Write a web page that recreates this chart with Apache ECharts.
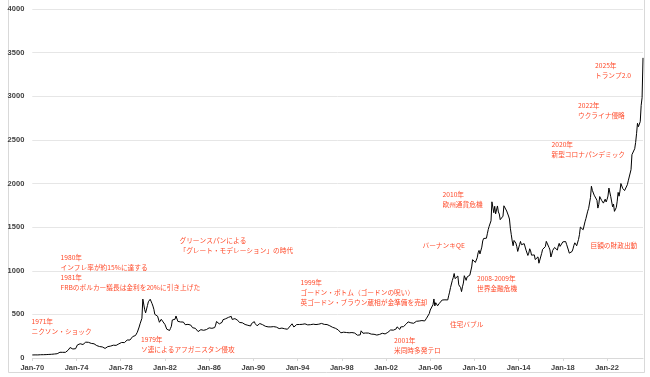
<!DOCTYPE html>
<html>
<head>
<meta charset="utf-8">
<script src="https://cdn.jsdelivr.net/npm/echarts@6/dist/echarts.min.js"></script>
<style>html,body{margin:0;padding:0;background:#fff}#c{width:650px;height:377px}</style>
</head>
<body>
<div id="c"></div>
<script>
// Monthly average gold price (USD/oz), Jan 1970 - Apr 2025
const startYear = 1970;
const gold1970s = [
 34.9,35.0,35.1,35.6,35.9,35.5,35.3,35.4,36.2,37.5,37.4,37.4,
 37.9,38.7,38.9,39.0,40.5,40.1,41.0,42.7,42.0,42.5,42.9,43.5,
 45.8,48.3,48.3,49.0,54.6,62.1,65.7,67.0,65.5,64.9,62.9,63.9,
 65.1,74.2,84.4,90.5,102.0,120.1,120.2,106.8,103.0,100.1,94.9,106.7,
 129.2,150.2,168.4,172.2,163.3,154.1,143.0,154.6,151.8,158.8,181.7,183.9,
 175.8,179.6,178.2,170.1,167.4,164.2,165.2,163.1,144.6,142.7,142.2,139.3,
 131.3,131.2,132.6,127.9,126.9,125.8,118.2,109.9,114.2,116.0,130.6,133.6,
 132.3,136.3,148.2,149.2,146.7,140.8,143.4,144.8,149.5,158.8,162.1,160.5,
 173.2,178.1,183.7,175.3,176.3,183.7,188.9,206.1,212.4,227.6,206.0,207.8,
 227.3,245.7,242.1,239.2,257.6,279.1,294.7,300.8,355.1,391.7,392.5,455.1
];
const gold1980s = [
 675.3,665.3,553.6,517.4,513.8,600.7,644.3,627.2,673.6,661.2,623.5,594.9,
 557.4,500.2,498.6,494.8,479.7,460.8,409.3,410.1,443.6,437.8,413.4,410.1,
 384.4,374.1,330.3,350.4,334.6,315.3,339.0,364.0,435.6,421.9,414.5,444.5,
 481.4,491.0,420.3,432.4,437.9,412.9,423.1,416.3,411.9,393.7,381.7,388.0,
 370.9,385.6,394.3,381.2,377.5,377.5,347.2,348.0,341.1,340.2,341.2,320.2,
 302.8,299.1,304.2,324.8,316.5,316.7,317.5,329.8,323.5,325.7,325.1,322.1,
 345.4,338.9,345.7,340.4,342.5,342.7,348.5,376.6,418.4,423.3,398.2,390.8,
 408.4,401.0,408.7,438.4,460.2,449.9,450.5,460.6,460.3,465.9,468.0,486.3,
 477.0,442.2,443.6,451.8,451.2,451.2,437.1,431.9,413.5,406.8,420.2,418.7,
 404.0,387.8,390.2,384.3,371.0,367.6,375.0,365.4,361.9,366.9,394.3,409.4
];
const gold1990s = [
 410.1,416.8,393.1,374.3,369.1,352.3,362.5,395.0,389.3,380.8,381.9,378.2,
 383.6,363.8,363.3,358.4,356.8,366.7,367.7,356.5,348.8,358.6,359.7,361.7,
 354.5,353.9,344.3,338.6,337.2,340.8,353.1,342.9,345.4,344.4,335.0,334.8,
 329.0,329.4,330.1,342.2,367.2,371.9,392.0,378.6,355.0,364.2,373.8,383.3,
 386.9,382.0,384.0,377.3,381.4,385.6,385.5,380.4,391.6,389.8,384.3,379.5,
 378.6,376.5,382.1,391.0,385.2,387.6,386.2,383.7,383.1,383.1,385.3,387.4,
 399.5,404.8,396.2,392.9,392.0,385.3,383.5,387.5,383.1,381.1,377.9,369.2,
 355.0,346.6,351.8,344.5,343.8,340.8,324.1,324.0,322.8,324.9,306.0,288.7,
 289.2,297.5,295.9,308.4,299.1,292.3,292.9,284.1,288.9,296.1,294.1,291.6,
 287.3,287.3,285.9,282.6,276.4,261.3,256.2,256.7,265.0,311.6,293.3,283.7
];
const gold2000s = [
 284.3,299.9,286.4,280.0,275.3,285.7,281.6,274.5,273.7,270.0,266.0,272.0,
 265.5,261.9,263.0,260.5,272.4,270.2,267.5,272.4,283.4,283.1,276.2,275.9,
 281.7,295.5,294.0,302.7,314.5,321.2,313.3,310.3,319.2,316.6,319.2,333.4,
 356.9,359.0,340.6,328.2,355.7,356.4,351.0,359.8,378.9,378.9,389.9,407.6,
 414.0,405.3,406.7,403.0,383.8,392.4,398.1,400.5,405.3,420.5,439.4,442.1,
 424.0,423.4,434.2,429.2,421.9,430.7,424.5,437.9,456.1,469.9,476.7,509.8,
 549.9,555.0,557.1,610.6,676.5,596.2,633.7,632.6,598.2,585.8,627.8,629.8,
 631.2,664.8,654.9,679.4,666.9,655.5,665.3,665.4,712.7,754.6,806.3,803.2,
 889.6,922.3,968.4,909.7,888.7,889.5,939.8,839.0,829.9,806.6,760.9,816.1,
 858.7,943.2,924.3,890.2,928.6,945.7,934.2,949.4,996.6,1043.2,1127.0,1134.7
];
const gold2010s = [
 1117.9,1095.4,1113.3,1148.7,1205.4,1232.9,1193.0,1215.8,1270.9,1342.0,1369.9,1390.6,
 1356.4,1372.7,1424.0,1473.8,1510.4,1528.7,1572.8,1790.0,1810.0,1665.2,1738.9,1652.2,
 1656.1,1742.6,1673.8,1650.1,1585.5,1596.7,1593.9,1626.0,1744.5,1756.6,1721.6,1684.8,
 1671.9,1627.6,1592.9,1487.9,1414.0,1342.4,1286.7,1347.1,1348.8,1316.6,1275.8,1221.5,
 1244.3,1299.6,1336.1,1298.5,1288.7,1279.1,1310.6,1295.1,1236.6,1222.5,1175.3,1202.3,
 1251.8,1227.1,1178.6,1198.9,1198.6,1181.5,1128.3,1117.9,1124.8,1159.3,1086.4,1068.3,
 1097.9,1199.5,1245.1,1242.3,1260.9,1276.4,1336.7,1340.2,1326.0,1266.6,1238.4,1157.4,
 1192.1,1234.2,1231.1,1266.9,1246.0,1260.3,1236.8,1283.0,1314.1,1279.5,1281.9,1264.5,
 1331.3,1330.7,1324.7,1334.8,1303.5,1281.6,1237.7,1201.7,1198.4,1215.4,1220.7,1250.4,
 1291.8,1320.1,1300.9,1286.0,1283.7,1359.0,1412.9,1500.4,1510.6,1494.8,1470.0,1479.1
];
const gold2020s = [
 1560.7,1597.1,1591.9,1683.2,1715.9,1732.2,1840.4,1968.6,1921.9,1900.3,1866.3,1858.4,
 1867.0,1808.2,1718.2,1760.0,1850.3,1834.6,1807.8,1785.3,1775.1,1776.9,1820.8,1788.5,
 1816.9,1856.3,1947.8,1937.4,1848.5,1836.6,1732.7,1764.6,1680.6,1664.5,1725.1,1797.6,
 1897.9,1854.6,1912.7,1999.8,1991.5,1942.9,1951.0,1918.7,1916.4,1916.6,1985.8,2030.7,
 2033.8,2022.8,2158.6,2330.5,2350.4,2326.2,2398.8,2470.5,2570.4,2690.3,2650.8,2648.0,
 2708.8,2894.9,2983.3,3440.0
];
const values = [].concat(gold1970s, gold1980s, gold1990s, gold2000s, gold2010s, gold2020s);
const monthNames = ['Jan','Feb','Mar','Apr','May','Jun','Jul','Aug','Sep','Oct','Nov','Dec'];
const categories = values.map((v, i) => {
  const y = startYear + Math.floor(i / 12);
  return monthNames[i % 12] + '-' + String(y % 100).padStart(2, '0');
});
const yTicks = [0, 500, 1000, 1500, 2000, 2500, 3000, 3500, 4000];

// Annotations: [lines, left, top(center of first line)]
const annotations = [
  [['1971年', 'ニクソン・ショック'], 31.5, 321],
  [['1980年', 'インフレ率が約15%に達する', '1981年', 'FRBのボルカー議長は金利を20%に引き上げた'], 60.5, 257.5],
  [['1979年', 'ソ連によるアフガニスタン侵攻'], 141, 339.5],
  [['グリーンスパンによる', '「グレート・モデレーション」の時代'], 179.5, 240],
  [['1999年', 'ゴードン・ボトム（ゴードンの呪い）', '英ゴードン・ブラウン蔵相が金準備を売却'], 300.5, 282.5],
  [['住宅バブル'], 450, 324.5],
  [['2001年', '米同時多発テロ'], 394, 340],
  [['2010年', '欧州通貨危機'], 442.5, 194.5],
  [['バーナンキQE'], 422.5, 245],
  [['2008-2009年', '世界金融危機'], 477, 278.5],
  [['2020年', '新型コロナパンデミック'], 551.5, 144.5],
  [['2022年', 'ウクライナ侵略'], 578, 105],
  [['2025年', 'トランプ2.0'], 595, 65],
  [['巨額の財政出動'], 590.5, 245]
];
const annColor = '#ff4b2b';
const lineH = 10.1;

const graphics = [{
  type: 'rect', silent: true, z: -1,
  shape: { x: 8.5, y: -1, width: 636, height: 373.5 },
  style: { fill: 'none', stroke: '#d9d9d9', lineWidth: 1 }
}];
annotations.forEach(([lines, x, y]) => {
  lines.forEach((t, k) => {
    graphics.push({
      type: 'text', silent: true, z: 10,
      x: x, y: y + k * lineH,
      style: {
        text: t, fill: annColor,
        font: '6.7px "Noto Sans CJK JP", sans-serif',
        textAlign: 'left', textVerticalAlign: 'middle'
      }
    });
  });
});

const chart = echarts.init(document.getElementById('c'), null, { renderer: 'canvas' });
chart.setOption({
  animation: false,
  backgroundColor: '#fff',
  grid: { left: 32.3, right: 7, top: 9, bottom: 19, containLabel: false },
  xAxis: {
    type: 'category',
    data: categories,
    boundaryGap: false,
    axisLine: { lineStyle: { color: '#d9d9d9', width: 1 } },
    axisTick: { show: true, interval: 47, length: 3, lineStyle: { color: '#d9d9d9' } },
    axisLabel: {
      interval: 47, margin: 6,
      color: '#404040', fontSize: 7.5, fontWeight: 'bold',
      fontFamily: 'Liberation Sans, Arial, sans-serif'
    },
    splitLine: { show: false }
  },
  yAxis: {
    type: 'value',
    min: yTicks[0], max: yTicks[yTicks.length - 1], interval: 500,
    axisLine: { show: false },
    axisTick: { show: false },
    axisLabel: {
      margin: 8,
      formatter: v => String(v),
      color: '#404040', fontSize: 7.5, fontWeight: 'bold',
      fontFamily: 'Liberation Sans, Arial, sans-serif'
    },
    splitLine: { lineStyle: { color: '#e6e6e6', width: 1 } }
  },
  series: [{
    type: 'line',
    data: values,
    showSymbol: false,
    symbol: 'none',
    lineStyle: { color: '#000', width: 1 },
    z: 5
  }],
  graphic: graphics
});
</script>
</body>
</html>
